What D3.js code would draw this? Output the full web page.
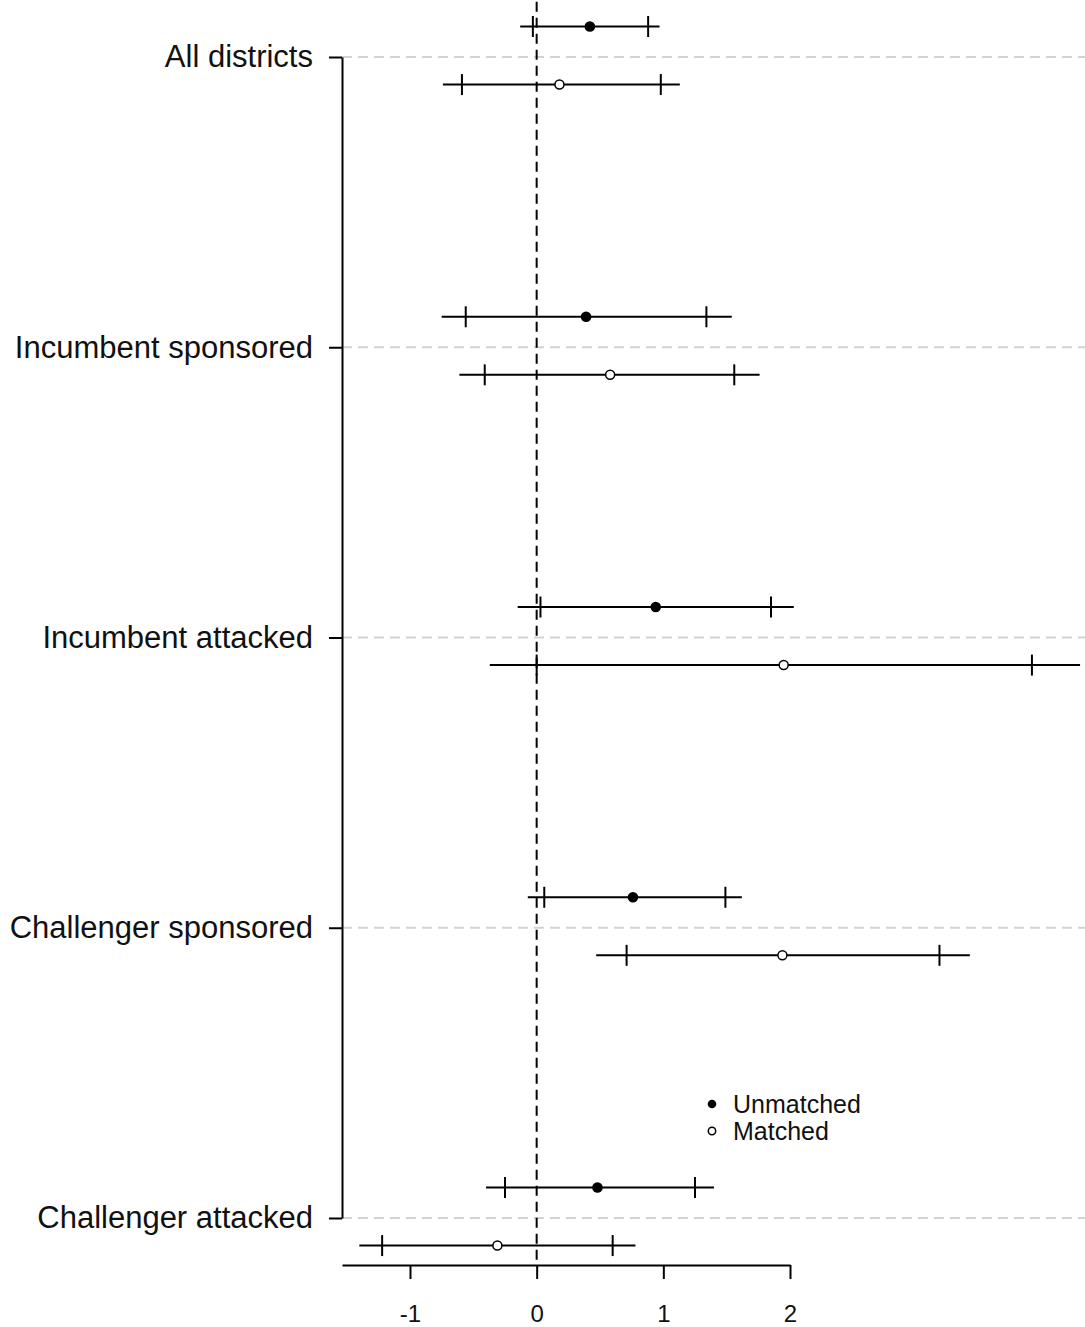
<!DOCTYPE html>
<html>
<head>
<meta charset="utf-8">
<script src="https://cdn.jsdelivr.net/npm/d3@7"></script>
<style>
  html, body { margin: 0; padding: 0; background: #fff; }
  svg { display: block; font-family: "Liberation Sans", Arial, sans-serif; }
</style>
</head>
<body>
<svg id="chart" width="1085" height="1327"></svg>
<script>
// Subgroups shown on the vertical axis
const categories = ["All districts", "Incumbent sponsored", "Incumbent attacked", "Challenger sponsored", "Challenger attacked"];

// Unmatched estimates with 90% and 95% intervals
const unmatchedEst  = [0.42, 0.39, 0.94, 0.76, 0.48];
const unmatchedLo90 = [-0.03, -0.56, 0.03, 0.06, -0.25];
const unmatchedHi90 = [0.88, 1.34, 1.85, 1.49, 1.25];
const unmatchedLo95 = [-0.13, -0.75, -0.15, -0.07, -0.40];
const unmatchedHi95 = [0.97, 1.54, 2.03, 1.62, 1.40];

// Matched estimates with 90% and 95% intervals
const matchedEst  = [0.18, 0.58, 1.95, 1.94, -0.31];
const matchedLo90 = [-0.59, -0.41, 0.00, 0.71, -1.22];
const matchedHi90 = [0.98, 1.56, 3.91, 3.18, 0.60];
const matchedLo95 = [-0.74, -0.61, -0.37, 0.47, -1.40];
const matchedHi95 = [1.13, 1.76, 4.29, 3.42, 0.78];

// Axis ticks and legend entries
const xTicks = [-1, 0, 1, 2];
const seriesNames = ["Unmatched", "Matched"];

const series = [
  { name: seriesNames[0], filled: true,  offset: -0.105,
    est: unmatchedEst, lo90: unmatchedLo90, hi90: unmatchedHi90, lo95: unmatchedLo95, hi95: unmatchedHi95 },
  { name: seriesNames[1], filled: false, offset: 0.095,
    est: matchedEst, lo90: matchedLo90, hi90: matchedHi90, lo95: matchedLo95, hi95: matchedHi95 }
];

const W = 1085, H = 1327;
const axisLeftX = 342, axisBottomY = 1265;

const svg = d3.select("#chart");

const x = d3.scaleLinear().domain([-1, 2]).range([410, 790]);
const y = d3.scaleLinear().domain([0, categories.length - 1]).range([57, 1218]);

// light dashed guides at each subgroup
svg.append("g")
  .selectAll("line")
  .data(categories)
  .join("line")
  .attr("x1", axisLeftX).attr("x2", W)
  .attr("y1", (d, i) => y(i)).attr("y2", (d, i) => y(i))
  .attr("stroke", "#d3d3d3")
  .attr("stroke-width", 2)
  .attr("stroke-dasharray", "10,6");

// reference line at zero
svg.append("line")
  .attr("x1", x(0)).attr("x2", x(0))
  .attr("y1", y(-0.19)).attr("y2", axisBottomY)
  .attr("stroke", "#000")
  .attr("stroke-width", 2)
  .attr("stroke-dasharray", "10,6");

// left axis with subgroup labels
const yAxis = d3.axisLeft(y)
  .tickValues(d3.range(categories.length))
  .tickFormat(i => categories[i])
  .tickSize(13)
  .tickSizeOuter(0)
  .tickPadding(16);

const gy = svg.append("g")
  .attr("transform", `translate(${axisLeftX},0)`)
  .call(yAxis);
gy.select(".domain").attr("stroke", "#000").attr("stroke-width", 2);
gy.selectAll(".tick line").attr("stroke", "#000").attr("stroke-width", 2);
gy.selectAll(".tick text")
  .attr("font-size", 31)
  .attr("fill", "#111")
  .attr("font-family", "Liberation Sans, Arial, sans-serif");

// bottom axis, line starting at the left axis
const xAxisScale = x.copy().domain([x.invert(axisLeftX), 2]).range([axisLeftX, x(2)]);
const xAxis = d3.axisBottom(xAxisScale)
  .tickValues(xTicks)
  .tickFormat(d => String(d))
  .tickSize(14)
  .tickSizeOuter(0)
  .tickPadding(24);

const gx = svg.append("g")
  .attr("transform", `translate(0,${axisBottomY})`)
  .call(xAxis);
gx.select(".domain").attr("stroke", "#000").attr("stroke-width", 2);
gx.selectAll(".tick line").attr("stroke", "#000").attr("stroke-width", 2);
gx.selectAll(".tick text")
  .attr("font-size", 24)
  .attr("fill", "#111")
  .attr("font-family", "Liberation Sans, Arial, sans-serif")
  .attr("dy", null)
  .attr("y", 57);

// interval rows
const rows = [];
series.forEach(s => {
  categories.forEach((c, i) => {
    rows.push({
      s, i, yy: y(i + s.offset),
      est: s.est[i], lo90: s.lo90[i], hi90: s.hi90[i], lo95: s.lo95[i], hi95: s.hi95[i]
    });
  });
});

const gBars = svg.append("g").attr("stroke", "#000").attr("stroke-width", 2);

// 95% interval as the full line
gBars.selectAll("line.ci95")
  .data(rows)
  .join("line")
  .attr("class", "ci95")
  .attr("x1", d => x(d.lo95)).attr("x2", d => x(d.hi95))
  .attr("y1", d => d.yy).attr("y2", d => d.yy);

// 90% interval ends as vertical ticks
const tickHalf = 10.5;
const ends = rows.flatMap(d => [{ v: d.lo90, yy: d.yy }, { v: d.hi90, yy: d.yy }]);
gBars.selectAll("line.ci90")
  .data(ends)
  .join("line")
  .attr("class", "ci90")
  .attr("x1", d => x(d.v)).attr("x2", d => x(d.v))
  .attr("y1", d => d.yy - tickHalf).attr("y2", d => d.yy + tickHalf);

// point estimates
svg.append("g")
  .selectAll("circle")
  .data(rows)
  .join("circle")
  .attr("cx", d => x(d.est))
  .attr("cy", d => d.yy)
  .attr("r", d => d.s.filled ? 5.3 : 4.5)
  .attr("fill", d => d.s.filled ? "#000" : "#fff")
  .attr("stroke", "#000")
  .attr("stroke-width", d => d.s.filled ? 0 : 1.5);

// legend
const legend = svg.append("g").attr("transform", "translate(712,1104)");
const li = legend.selectAll("g")
  .data(series)
  .join("g")
  .attr("transform", (d, i) => `translate(0,${i * 27})`);
li.append("circle")
  .attr("r", d => d.filled ? 4.3 : 3.7)
  .attr("fill", d => d.filled ? "#000" : "#fff")
  .attr("stroke", "#000")
  .attr("stroke-width", d => d.filled ? 0 : 1.5);
li.append("text")
  .attr("x", 21)
  .attr("y", 9)
  .attr("font-size", 25)
  .attr("fill", "#111")
  .text(d => d.name);
</script>
</body>
</html>
